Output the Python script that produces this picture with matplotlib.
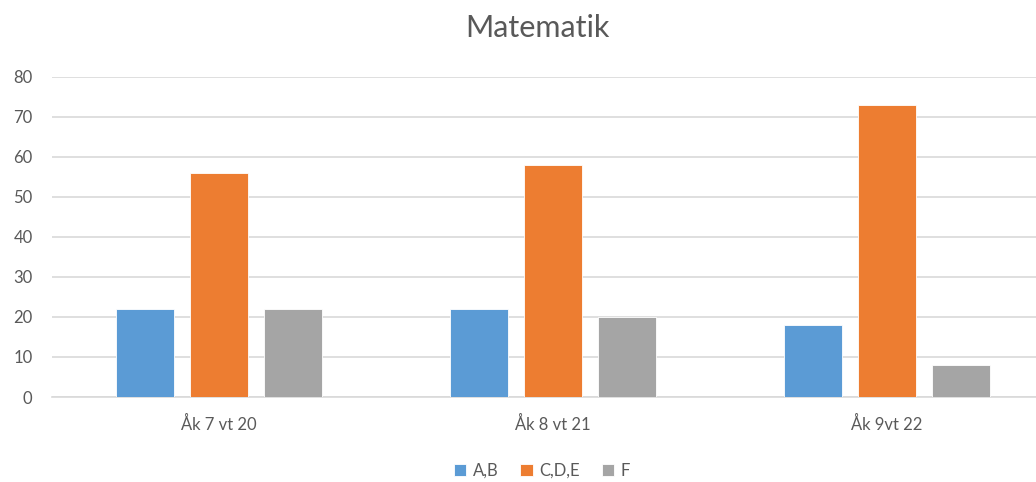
import matplotlib
matplotlib.use("Agg")
import matplotlib.pyplot as plt
import numpy as np

categories = ["Åk 7 vt 20", "Åk 8 vt 21", "Åk 9vt 22"]
series_names = ["A,B", "C,D,E", "F"]
ab = [22, 22, 18]
cde = [56, 58, 73]
f = [22, 20, 8]
yticks = [0, 10, 20, 30, 40, 50, 60, 70, 80]

colors = ["#5B9BD5", "#ED7D31", "#A5A5A5"]
text_color = "#595959"
plt.rcParams['font.family'] = ['Lato', 'DejaVu Sans']

fig = plt.figure(figsize=(10.36, 4.82), dpi=100)
ax = fig.add_axes([52/1036, 85/482, 1002/1036, 320.3/482])

x = np.arange(len(categories))
w = 0.171
off = 0.2216
for i, (vals, name) in enumerate(zip([ab, cde, f], series_names)):
    ax.bar(x + (i - 1) * off, vals, width=w, color=colors[i], label=name,
           edgecolor="white", linewidth=0.6, zorder=3)

ax.set_xlim(-0.5, 2.5)
ax.set_ylim(0, 80)
ax.set_yticks(yticks)
ax.set_xticks(x)
ax.set_xticklabels(categories)
ax.grid(axis="y", color="#D9D9D9", linewidth=1.2, zorder=0)
for s in ["top", "right", "left"]:
    ax.spines[s].set_visible(False)
ax.spines["bottom"].set_color("#D9D9D9")
ax.spines["bottom"].set_linewidth(1.2)
ax.tick_params(axis="both", length=0, colors=text_color, labelsize=12)
ax.tick_params(axis="y", pad=14)
ax.tick_params(axis="x", pad=14)

fig.text(537/1036, 1 - 28/482, "Matematik", ha="center", va="center",
         fontsize=22, color=text_color)

fig.legend(loc="center", bbox_to_anchor=(542/1036, 1 - 471/482), ncol=3,
           frameon=False, fontsize=12, handlelength=0.75, handleheight=0.75,
           handletextpad=0.4, columnspacing=1.3, labelcolor=text_color)

fig.savefig("out.png", dpi=100)
